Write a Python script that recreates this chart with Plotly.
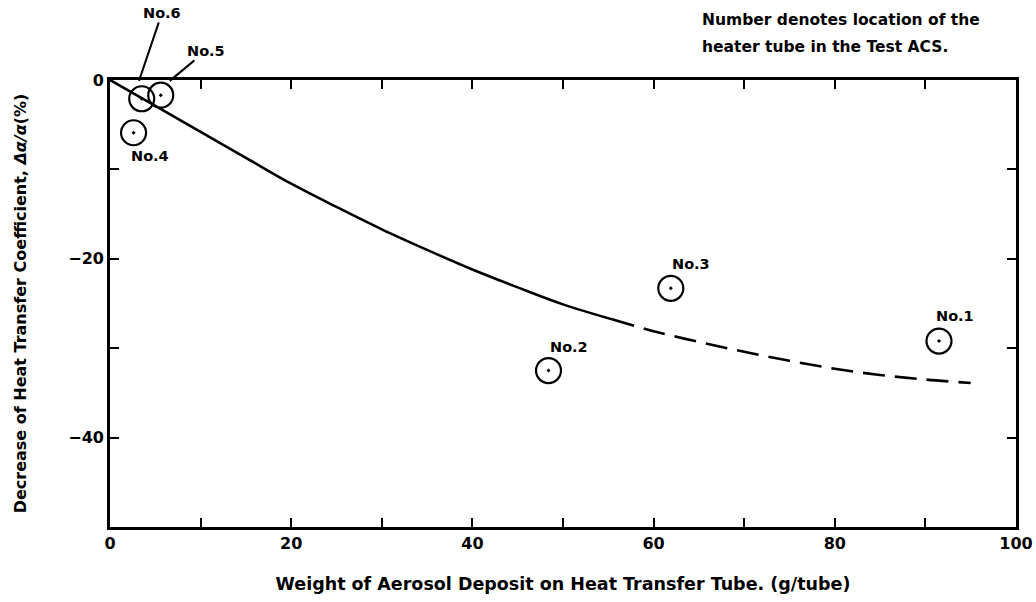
import plotly.graph_objects as go

# Data
tube_labels = ["No.1", "No.2", "No.3", "No.4", "No.5", "No.6"]
deposit_g = [91.5, 48.4, 61.9, 2.6, 5.6, 3.5]
decrease_pct = [-29.2, -32.5, -23.3, -5.9, -1.7, -2.1]

fit_solid_x = [0, 5, 10, 15, 20, 25, 30, 35, 40, 45, 50, 55.5]
fit_solid_y = [0, -2.9, -5.8, -8.7, -11.6, -14.2, -16.7, -19.0, -21.2, -23.2, -25.1, -26.8]
fit_dash_x = [55.5, 60, 65, 70, 75, 80, 85, 90, 95]
fit_dash_y = [-26.8, -28.1, -29.3, -30.4, -31.4, -32.3, -33.0, -33.5, -33.9]

x_tick_vals = [0, 10, 20, 30, 40, 50, 60, 70, 80, 90, 100]
x_tick_text = ["0", "", "20", "", "40", "", "60", "", "80", "", "100"]
y_tick_vals = [0, -10, -20, -30, -40, -50]
y_tick_text = ["0", "", "\u221220", "", "\u221240", ""]

note_lines = ["Number denotes location of the", "heater tube in the Test ACS."]

FONT = "DejaVu Sans"

fig = go.Figure()
fig.add_trace(go.Scatter(x=fit_solid_x, y=fit_solid_y, mode="lines", line_shape="spline",
                         line=dict(color="black", width=2.6), hoverinfo="skip"))
fig.add_trace(go.Scatter(x=fit_dash_x, y=fit_dash_y, mode="lines", line_shape="spline",
                         line=dict(color="black", width=2.6, dash="22px,10px"), hoverinfo="skip"))
fig.add_trace(go.Scatter(x=deposit_g, y=decrease_pct, mode="markers",
                         marker=dict(symbol="circle-open-dot", size=25, color="black",
                                     line=dict(color="black", width=2.2)),
                         cliponaxis=False, text=tube_labels))

# Label placement offsets (pixels) per tube
label_offsets = {
    "No.1": (16, -25, False),
    "No.2": (20, -24, False),
    "No.3": (20, -24, False),
    "No.4": (16, 23, False),
    "No.5": (36, -30, True),
    "No.6": (23, -68, True),
}
for name, xv, yv in zip(tube_labels, deposit_g, decrease_pct):
    dx, dy, arrow = label_offsets[name]
    if arrow:
        fig.add_annotation(x=xv + (1.0 if name == "No.5" else -0.3), y=-0.1,
                           text=f"<b>{name}</b>", showarrow=True, arrowhead=0,
                           arrowwidth=2, arrowcolor="black", ax=dx, ay=dy,
                           font=dict(family=FONT, size=14.5, color="black"))
    else:
        fig.add_annotation(x=xv, y=yv, text=f"<b>{name}</b>", showarrow=False,
                           xshift=dx, yshift=-dy,
                           font=dict(family=FONT, size=14.5, color="black"))

for i, line in enumerate(note_lines):
    fig.add_annotation(xref="paper", yref="paper", x=(700 - 110) / 906,
                       y=1 + (80 - 20 - 27 * i) / 447,
                       xanchor="left", yanchor="middle", showarrow=False,
                       text=f"<b>{line}</b>",
                       font=dict(family=FONT, size=15.5, color="black"))

axis_common = dict(showline=True, linecolor="black", linewidth=2.6, mirror="ticks",
                   ticks="inside", ticklen=9, tickwidth=2, tickcolor="black",
                   showgrid=False, zeroline=False, automargin=False,
                   tickfont=dict(family=FONT, size=16, color="black", weight="bold"))

fig.update_layout(
    width=1036, height=602,
    margin=dict(l=110, r=20, t=80, b=75),
    plot_bgcolor="white", paper_bgcolor="white",
    showlegend=False,
    xaxis=dict(range=[0, 100], tickvals=x_tick_vals, ticktext=x_tick_text,
               title=dict(text="<b>Weight of Aerosol Deposit on Heat Transfer Tube. (g/tube)</b>",
                          font=dict(family=FONT, size=17.5, color="black"), standoff=26),
               **axis_common),
    yaxis=dict(range=[-50, 0], tickvals=y_tick_vals, ticktext=y_tick_text,
               title=dict(text="<b>Decrease of Heat Transfer Coefficient, <i>\u0394\u03b1/\u03b1</i>(%)</b>",
                          font=dict(family=FONT, size=16, color="black"), standoff=38),
               **axis_common),
)

fig.write_html("out.html", config={"displayModeBar": False},
               post_script="document.body.style.margin='0';")
